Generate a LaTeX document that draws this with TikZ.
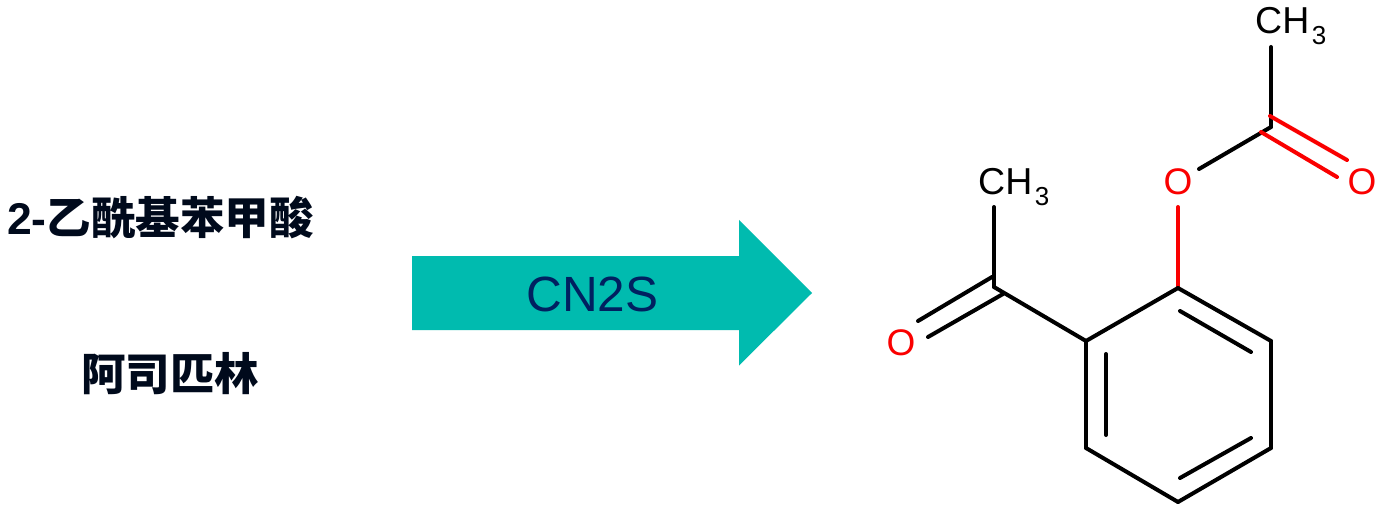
\documentclass[tikz,border=0pt]{standalone}
\usepackage{fontspec}
\setmainfont{Liberation Sans}
\newfontfamily\cjk{Noto Sans CJK SC}
\definecolor{teal}{HTML}{00BBAF}
\definecolor{navy}{HTML}{002060}
\definecolor{ink}{HTML}{000A1C}
\definecolor{oxy}{HTML}{FA0000}
\newcommand{\methyl}{\fontsize{37.5}{37.5}\selectfont CH\kern2.5pt\raisebox{-11pt}{\fontsize{26}{26}\selectfont 3}}
\tikzset{
  bond/.style={line width=4pt,line cap=round,black},
  obond/.style={line width=4pt,line cap=round,oxy},
  atomO/.style={inner sep=0pt,text=oxy,font=\fontsize{37}{37}\selectfont},
  atomC/.style={inner sep=0pt,anchor=base west,text=black},
  name label/.style={inner sep=0pt,text=ink,font=\fontsize{44.5}{50}\selectfont\bfseries},
}
\begin{document}
\begin{tikzpicture}[x=1pt,y=-1pt]
\useasboundingbox[fill=white] (0,0) rectangle (1384,513);
% left labels
\node[name label] (acid) at (160.5,218) {2-{\cjk 乙酰基苯甲酸}};
\node[name label,font=\fontsize{44.5}{50}\selectfont\bfseries\cjk] (aspirin) at (170,374) {阿司匹林};
% arrow
\fill[teal] (412,256) -- (739,256) -- (739,220) -- (812,293) -- (739,365.5) -- (739,330) -- (412,330) -- cycle;
\node[inner sep=0pt,anchor=base,text=navy,font=\fontsize{49.5}{49.5}\selectfont] (cn) at (592.5,311) {CN2S};
% atoms
\node[atomC] (me1) at (1255,33.5) {\methyl};
\node[atomC] (me2) at (978,194.5) {\methyl};
\node[atomO] (o1) at (1178,181.5) {O};
\node[atomO] (o2) at (1362,181.5) {O};
\node[atomO] (o3) at (901,342.5) {O};
% skeleton
\coordinate (c1) at (1271,127);
\coordinate (c2) at (994,287);
\coordinate (r1) at (1178,288);
\coordinate (r2) at (1271,341);
\coordinate (r3) at (1271,448);
\coordinate (r4) at (1178,502);
\coordinate (r5) at (1086,448);
\coordinate (r6) at (1086,341);
% bond ends
\coordinate (a1) at (1271,47);
\coordinate (a2) at (1199,169);
\coordinate (a3) at (994,207);
\coordinate (a4) at (1178,207);
\coordinate (d1s) at (1270,116);
\coordinate (d1e) at (1347,160);
\coordinate (d2s) at (1261,132);
\coordinate (d2e) at (1337,177);
\coordinate (d3s) at (992,277);
\coordinate (d3e) at (918,321);
\coordinate (d4s) at (1003,294);
\coordinate (d4e) at (928,337);
\coordinate (i1s) at (1106,354);
\coordinate (i1e) at (1106,435);
\coordinate (i2s) at (1180,311);
\coordinate (i2e) at (1251,352);
\coordinate (i3s) at (1180,478);
\coordinate (i3e) at (1251,438);
% bonds
\draw[obond] (a4) -- (r1);
\draw[bond] (a1) -- (c1);
\draw[bond] (c1) -- (a2);
\draw[bond] (a3) -- (c2);
\draw[bond] (c2) -- (r6);
\draw[bond] (r1) -- (r2);
\draw[bond] (r2) -- (r3);
\draw[bond] (r3) -- (r4);
\draw[bond] (r4) -- (r5);
\draw[bond] (r5) -- (r6);
\draw[bond] (r6) -- (r1);
\draw[bond] (d3s) -- (d3e);
\draw[bond] (d4s) -- (d4e);
\draw[bond] (i1s) -- (i1e);
\draw[bond] (i2s) -- (i2e);
\draw[bond] (i3s) -- (i3e);
\draw[obond] (d1s) -- (d1e);
\draw[obond] (d2s) -- (d2e);
\end{tikzpicture}
\end{document}
